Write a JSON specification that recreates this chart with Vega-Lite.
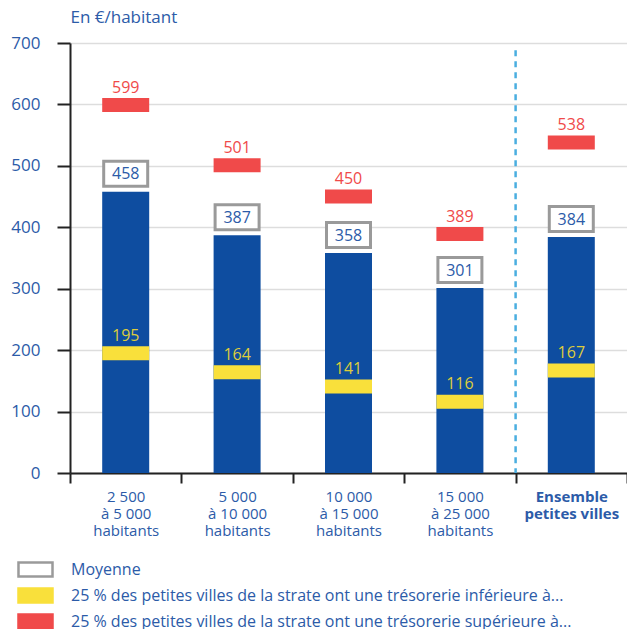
{
  "$schema": "https://vega.github.io/schema/vega-lite/v6.json",
  "autosize": {"type": "none"},
  "padding": {"left": 70, "top": 43, "right": 0, "bottom": 156},
  "width": 557,
  "height": 430,
  "background": "white",
  "config": {
    "font": "Open Sans",
    "view": {"stroke": null},
    "legend": {"symbolStrokeWidth": 2.5}
  },
  "data": {
    "values": [
      {"cat": "2 500|à 5 000|habitants", "serie": "moy", "v": 458},
      {"cat": "2 500|à 5 000|habitants", "serie": "p25", "v": 195},
      {"cat": "2 500|à 5 000|habitants", "serie": "p75", "v": 599},
      {"cat": "5 000|à 10 000|habitants", "serie": "moy", "v": 387},
      {"cat": "5 000|à 10 000|habitants", "serie": "p25", "v": 164},
      {"cat": "5 000|à 10 000|habitants", "serie": "p75", "v": 501},
      {"cat": "10 000|à 15 000|habitants", "serie": "moy", "v": 358},
      {"cat": "10 000|à 15 000|habitants", "serie": "p25", "v": 141},
      {"cat": "10 000|à 15 000|habitants", "serie": "p75", "v": 450},
      {"cat": "15 000|à 25 000|habitants", "serie": "moy", "v": 301},
      {"cat": "15 000|à 25 000|habitants", "serie": "p25", "v": 116},
      {"cat": "15 000|à 25 000|habitants", "serie": "p75", "v": 389},
      {"cat": "Ensemble|petites villes", "serie": "moy", "v": 384},
      {"cat": "Ensemble|petites villes", "serie": "p25", "v": 167},
      {"cat": "Ensemble|petites villes", "serie": "p75", "v": 538}
    ]
  },
  "encoding": {
    "x": {
      "field": "cat",
      "type": "nominal",
      "sort": null,
      "scale": {"paddingInner": 0, "paddingOuter": 0},
      "axis": {
        "title": null,
        "labelAngle": 0,
        "labelExpr": "split(datum.label, '|')",
        "labelColor": "#2c5ba8",
        "labelFontSize": 15,
        "labelLineHeight": 17,
        "labelBaseline": "top",
        "labelPadding": 6,
        "labelFontWeight": {"condition": {"test": "datum.value == 'Ensemble|petites villes'", "value": "bold"}, "value": "normal"},
        "domainColor": "#222222",
        "domainWidth": 2,
        "tickColor": "#222222",
        "tickWidth": 2,
        "tickSize": 10,
        "tickBand": "extent",
        "grid": false
      }
    }
  },
  "layer": [
    {
      "transform": [{"filter": "datum.serie == 'moy'"}],
      "mark": {"type": "bar", "width": 47, "color": "#0e4da0"},
      "encoding": {
        "y": {
          "field": "v",
          "type": "quantitative",
          "scale": {"domain": [0, 700], "nice": false},
          "axis": {
            "values": [0, 100, 200, 300, 400, 500, 600, 700],
            "title": "En €/habitant",
            "titleAngle": 0,
            "titleAlign": "left",
            "titleBaseline": "middle",
            "titleX": 0,
            "titleY": -26,
            "titleFontSize": 17,
            "titleFontWeight": "normal",
            "titleColor": "#2c5ba8",
            "labelColor": "#2c5ba8",
            "labelFontSize": 17,
            "labelPadding": 17,
            "domainColor": "#222222",
            "domainWidth": 2,
            "tickColor": "#222222",
            "tickWidth": 2,
            "tickSize": 13,
            "grid": true,
            "gridColor": "#dddddd",
            "gridWidth": 1.5
          }
        }
      }
    },
    {
      "transform": [{"filter": "datum.serie != 'moy'"}],
      "mark": {"type": "tick", "orient": "horizontal", "thickness": 14, "size": 47, "strokeWidth": 0, "opacity": 1},
      "encoding": {
        "y": {"field": "v", "type": "quantitative"},
        "fill": {
          "field": "serie",
          "type": "nominal",
          "scale": {"domain": ["moy", "p25", "p75"], "range": ["#ffffff", "#f9e03b", "#f04a4a"]},
          "legend": {
            "title": null,
            "orient": "none",
            "legendX": -43,
            "legendY": 518,
            "padding": 0,
            "symbolType": "M-2.43,-1H2.43V1H-2.43Z",
            "symbolSize": 196,
            "symbolOpacity": 1,
            "labelColor": "#2c5ba8",
            "labelFontSize": 16,
            "labelOffset": 27,
            "rowPadding": 1,
            "labelLimit": 600,
            "labelExpr": "datum.value == 'moy' ? 'Moyenne' : datum.value == 'p25' ? '25 % des petites villes de la strate ont une trésorerie inférieure à...' : '25 % des petites villes de la strate ont une trésorerie supérieure à...'"
          }
        },
        "stroke": {
          "field": "serie",
          "type": "nominal",
          "scale": {"domain": ["moy", "p25", "p75"], "range": ["#9a9a9a", "#f9e03b", "#f04a4a"]}
        }
      }
    },
    {
      "transform": [{"filter": "datum.serie == 'moy'"}],
      "mark": {"type": "tick", "orient": "horizontal", "thickness": 25, "size": 44, "strokeWidth": 3, "yOffset": -18, "opacity": 1},
      "encoding": {
        "y": {"field": "v", "type": "quantitative"},
        "fill": {"field": "serie", "type": "nominal"},
        "stroke": {"field": "serie", "type": "nominal"}
      }
    },
    {
      "mark": {"type": "text", "fontSize": 16, "baseline": "middle", "align": "center", "yOffset": -17.5},
      "encoding": {
        "y": {"field": "v", "type": "quantitative"},
        "text": {"field": "v", "type": "quantitative"},
        "color": {
          "condition": [
            {"test": "datum.serie == 'p25'", "value": "#ddcc3c"},
            {"test": "datum.serie == 'p75'", "value": "#f04a4a"}
          ],
          "value": "#2c5ba8"
        }
      }
    },
    {
      "data": {"values": [{"pos": "Ensemble|petites villes", "top": 688, "bottom": 0}]},
      "mark": {"type": "rule", "stroke": "#4aaee0", "strokeWidth": 2.5, "strokeDash": [6, 5]},
      "encoding": {
        "x": {"field": "pos", "type": "nominal", "bandPosition": 0},
        "y": {"field": "top", "type": "quantitative"},
        "y2": {"field": "bottom"}
      }
    }
  ]
}
